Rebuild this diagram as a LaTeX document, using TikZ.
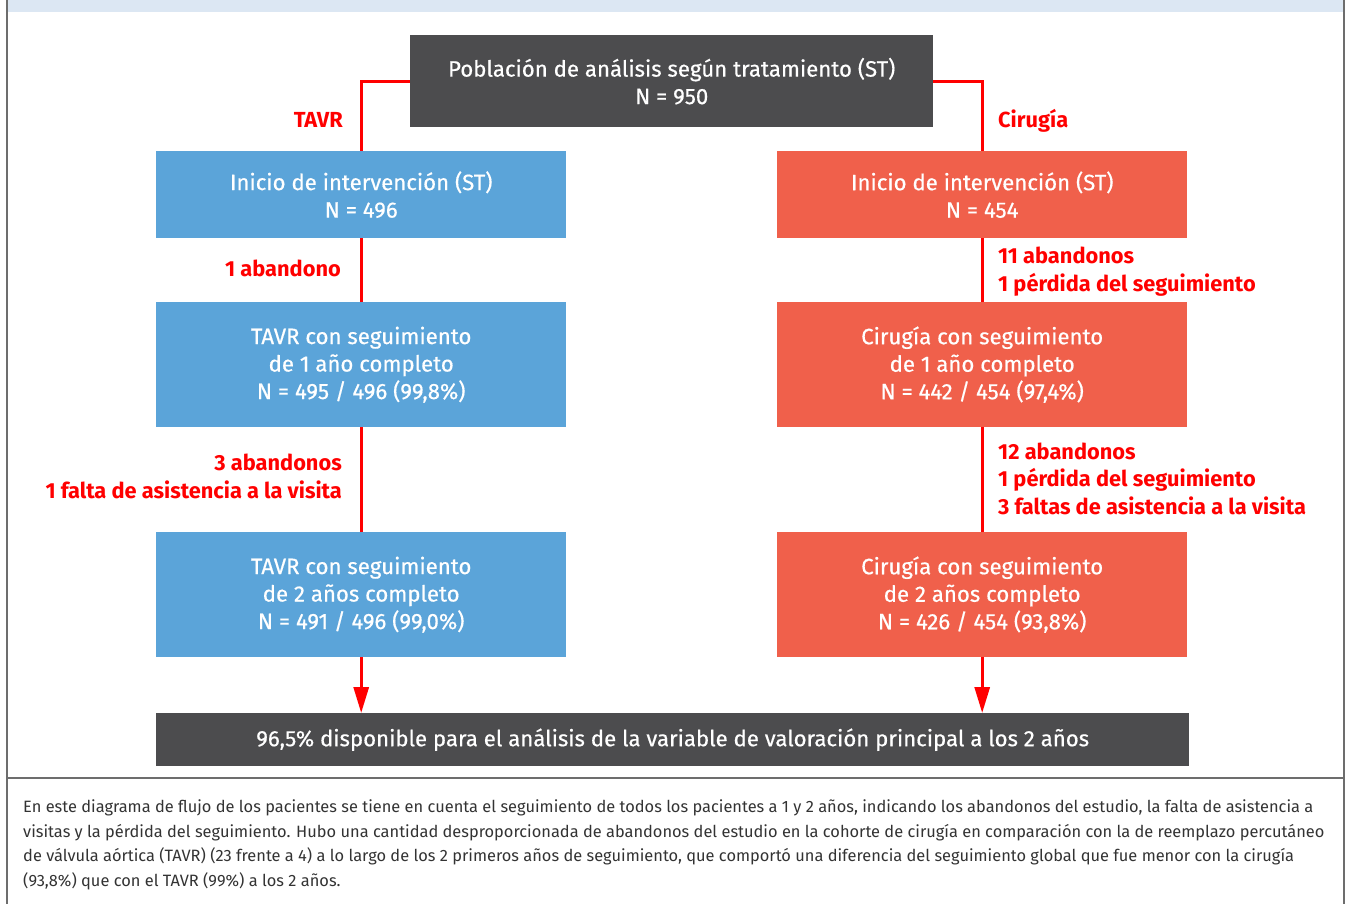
\documentclass[tikz,border=0pt]{standalone}
\usepackage{fontspec}
\setmainfont{Fira Sans}
\newfontfamily\medfont{Fira Sans}[FakeBold=0.5]
\usetikzlibrary{arrows.meta}
\definecolor{darkbox}{HTML}{4C4C4E}
\definecolor{bluebox}{HTML}{5BA4D9}
\definecolor{orangebox}{HTML}{F0604B}
\definecolor{redline}{HTML}{FF0000}
\definecolor{framegray}{HTML}{6D6D6D}
\definecolor{bandblue}{HTML}{DCE7F3}
\definecolor{captext}{HTML}{333333}
\tikzset{
  box/.style={anchor=north west, inner sep=0pt, align=center, text=white,
    font=\medfont\fontsize{22.2}{27.5}\selectfont},
  darkfill/.style={box, fill=darkbox},
  bluefill/.style={box, fill=bluebox, minimum width=410pt},
  orangefill/.style={box, fill=orangebox, minimum width=410pt},
  redlabel/.style={inner sep=0pt, text=redline, font=\fontsize{21.8}{27.5}\selectfont\bfseries},
  conn/.style={draw=redline, line width=3pt},
  arr/.style={conn, -{Triangle[length=26pt,width=15pt]}},
}
\begin{document}
\begin{tikzpicture}[x=1pt,y=-1pt]
\useasboundingbox (0,0) rectangle (1345,904);
% frame
\fill[bandblue] (7,0) rectangle (1344,12);
\draw[framegray, line width=2pt] (7,0) -- (7,904);
\draw[framegray, line width=2pt] (1344,0) -- (1344,904);
\draw[framegray, line width=2pt] (7,778) -- (1344,778);

% boxes
\node[darkfill, minimum width=523pt, minimum height=92pt] (top) at (410,35)
  {Población de análisis según tratamiento (ST)\\N = 950};
\node[bluefill, minimum height=87pt] (l1) at (156,151)
  {Inicio de intervención (ST)\\N = 496};
\node[orangefill, minimum height=87pt] (r1) at (777,151)
  {Inicio de intervención (ST)\\N = 454};
\node[bluefill, minimum height=125pt] (l2) at (156,302)
  {TAVR con seguimiento\\de 1 año completo\\N = 495 / 496 (99,8\%)};
\node[orangefill, minimum height=125pt] (r2) at (777,302)
  {Cirugía con seguimiento\\de 1 año completo\\N = 442 / 454 (97,4\%)};
\node[bluefill, minimum height=125pt] (l3) at (156,532)
  {TAVR con seguimiento\\de 2 años completo\\N = 491 / 496 (99,0\%)};
\node[orangefill, minimum height=125pt] (r3) at (777,532)
  {Cirugía con seguimiento\\de 2 años completo\\N = 426 / 454 (93,8\%)};
\node[darkfill, minimum width=1033pt, minimum height=53pt] (bot) at (156,713)
  {96,5\% disponible para el análisis de la variable de valoración principal a los 2 años};

% connectors
\draw[conn] (top.west |- 0,82) -| (l1.north);
\draw[conn] (top.east |- 0,82) -| (r1.north);
\draw[conn] (l1.south) -- (l2.north);
\draw[conn] (l2.south) -- (l3.north);
\draw[conn] (r1.south) -- (r2.north);
\draw[conn] (r2.south) -- (r3.north);
\draw[arr] (l3.south) -- (l3.south |- bot.north);
\draw[arr] (r3.south) -- (r3.south |- bot.north);

% labels (base anchor = baseline of last line)
\node[redlabel, anchor=base east] (lt) at (343,128) {TAVR};
\node[redlabel, anchor=base west] (lr) at (998,128) {Cirugía};
\node[redlabel, anchor=base east] (la1) at (341,277) {1 abandono};
\node[redlabel, anchor=base west, align=left] (ra1) at (998,291)
  {11 abandonos\\1 pérdida del seguimiento};
\node[redlabel, anchor=base east, align=right] (la2) at (342,498)
  {3 abandonos\\1 falta de asistencia a la visita};
\node[redlabel, anchor=base west, align=left] (ra2) at (998,514)
  {12 abandonos\\1 pérdida del seguimiento\\3 faltas de asistencia a la visita};

% caption
\node[anchor=base west, inner sep=0pt, align=left, text=captext,
  font=\fontsize{16.4}{24.5}\selectfont] (cap) at (23,886)
  {En este diagrama de flujo de los pacientes se tiene en cuenta el seguimiento de todos los pacientes a 1 y 2 años, indicando los abandonos del estudio, la falta de asistencia a\\
   visitas y la pérdida del seguimiento. Hubo una cantidad desproporcionada de abandonos del estudio en la cohorte de cirugía en comparación con la de reemplazo percutáneo\\
   de válvula aórtica (TAVR) (23 frente a 4) a lo largo de los 2 primeros años de seguimiento, que comportó una diferencia del seguimiento global que fue menor con la cirugía\\
   (93,8\%) que con el TAVR (99\%) a los 2 años.};
\end{tikzpicture}
\end{document}
